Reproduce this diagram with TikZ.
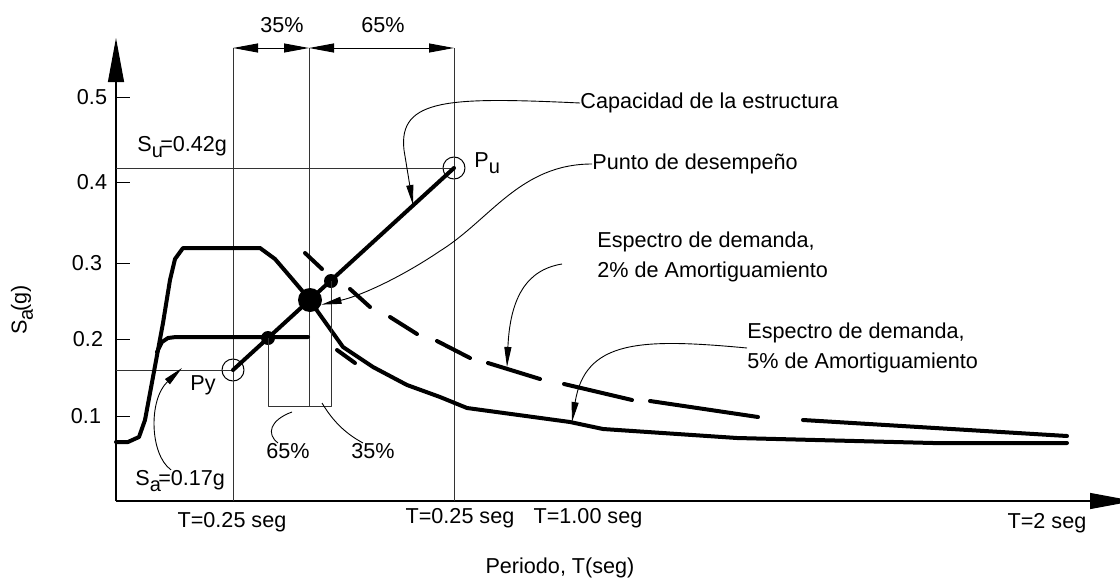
\documentclass[tikz,border=0pt]{standalone}
\usepackage{fontspec}
\setmainfont{Liberation Sans}
\usetikzlibrary{arrows.meta}
\newcommand{\bajo}[1]{\raisebox{-0.55ex}{\fontsize{10}{10}\selectfont #1}\kern-0.12em}

\begin{document}
\begin{tikzpicture}[x=0.5pt, y=-0.5pt, line join=round,
  every node/.style={font=\fontsize{10.8}{15}\selectfont, inner sep=0pt}]
\tikzset{guia/.style={line width=0.5pt, black!80}}
\tikzset{curva/.style={line width=2pt, line cap=round}}
\tikzset{llamada/.style={line width=0.45pt, -{Triangle[length=10pt,width=3.5pt]}}}
\tikzset{cota/.style={line width=0.5pt, {Triangle[length=12.5pt,width=4.5pt]}-{Triangle[length=12.5pt,width=4.5pt]}}}
\tikzset{eje/.style={line width=0.6pt, -{Triangle[length=22pt,width=8pt]}}}
\tikzset{anillo/.style={circle, draw, line width=0.5pt, minimum size=11pt}}
\tikzset{punto/.style={circle, fill, minimum size=7pt}}
\useasboundingbox (0,0) rectangle (1120,584);

% ejes
\coordinate (o) at (116,501);
\draw[eje] (o) -- (116,38);
\draw[eje] (o) -- (1134,501);
\foreach \y/\x/\t in {97/92/0.5, 182/92/0.4, 263/87/0.3, 339/88/0.2, 416/86/0.1} {
  \draw[line width=0.5pt] (116,\y) -- (130,\y);
  \node at (\x,\y) {\t};
}
\node[rotate=90] (sag) at (22,310) {S\bajo{a}(g)};

% lineas guia
\node[anillo] (py) at (233,370) {};
\node[anillo] (pu) at (454,168) {};
\draw[guia] (233,48) -- (233,501);
\draw[guia] (309,48) -- (309,406);
\draw[guia] (454,48) -- (454,501);
\draw[guia] (116,168) -- (pu.center);
\draw[guia] (116,370) -- (py.center);
\draw[cota] (233,48) -- (309,48);
\draw[cota] (309,48) -- (454,48);
\node (t35) at (282,25) {35\%};
\node (t65) at (383,25) {65\%};

% espectros
\draw[curva] (116,442) -- (128,442) -- (139,437) -- (145,420) -- (153,377) -- (158,350)
  -- (163,323) -- (170,280) -- (175,259) -- (183,248) -- (260,248) -- (275,259)
  -- (293,280) -- (310,300) -- (318,312) -- (343,347) -- (373,367) -- (407,385)
  -- (440,397) -- (467,408) -- (570,422) -- (603,429) -- (737,438) -- (933,443) -- (1067,443);
\draw[curva] (157,352) -- (162,342) -- (168,338) -- (176,337) -- (308,337);
\foreach \xa/\ya/\xb/\yb in {305/253/322/269, 350/289/370/307, 390/317/417/334,
  437/341/470/358, 488/363/540/379, 564/384/632/400, 650/401/758/417,
  803/420/1067/436, 337/350/355/363}
  \draw[curva] (\xa,\ya) -- (\xb,\yb);

% capacidad
\draw[curva] (py.center) -- (pu.center);
\node[punto] (d1) at (268,338) {};
\node[punto] (d2) at (331,281) {};
\node[punto, minimum size=12pt] (pde) at (310,300) {};
\draw[guia] (d1.center) -- (268,406) -- (331,406) -- (d2.center);

% textos
\node[anchor=west] (su) at (137,147) {S\bajo{u}=0.42g};
\node[anchor=west] (pul) at (474,163) {P\bajo{u}};
\node[anchor=west] (pyl) at (190,385) {Py};
\node[anchor=west] (sa) at (135,481) {S\bajo{a}=0.17g};
\node (p65) at (288,451) {65\%};
\node (p35) at (373,451) {35\%};
\node (ta) at (232,522) {T=0.25 seg};
\node (tb) at (460,518) {T=0.25 seg};
\node (tc) at (588,518) {T=1.00 seg};
\node (td) at (1047,523) {T=2 seg};
\node (per) at (560,568) {Periodo, T(seg)};
\node[anchor=west] (cap) at (580,103) {Capacidad de la estructura};
\node[anchor=west] (pd) at (592,164) {Punto de desempeño};
\node[anchor=west, align=left] (e2) at (597,257) {Espectro de demanda,\\2\% de Amortiguamiento};
\node[anchor=west, align=left] (e5) at (747,348) {Espectro de demanda,\\5\% de Amortiguamiento};

% llamadas
\coordinate (c2) at (507,367);
\coordinate (c5) at (572,422);
\coordinate (b65) at (292,412);
\coordinate (b35) at (322,403);
\draw[llamada] (cap.west) .. controls (450,97) and (398,98) .. (404,150) -- (413,205);
\draw[llamada] (pd.west) .. controls (520,164) and (490,220) .. (440,251)
  .. controls (400,278) and (360,296) .. (pde.-22);
\draw[llamada] ([xshift=-17.5pt,yshift=-3.5pt]e2.west) .. controls (525,270) and (510,300) .. (c2);
\draw[llamada] (e5.west) .. controls (640,338) and (585,340) .. (c5);
\draw[llamada] ([xshift=18pt]sa.north west) .. controls (150,455) and (148,400) .. (182,368);
\draw[line width=0.45pt] (b65) .. controls (270,420) and (266,434) .. ([xshift=-5pt]p65.north);
\draw[line width=0.45pt] (b35) .. controls (335,425) and (350,436) .. ([xshift=-5pt]p35.north);
\end{tikzpicture}
\end{document}
